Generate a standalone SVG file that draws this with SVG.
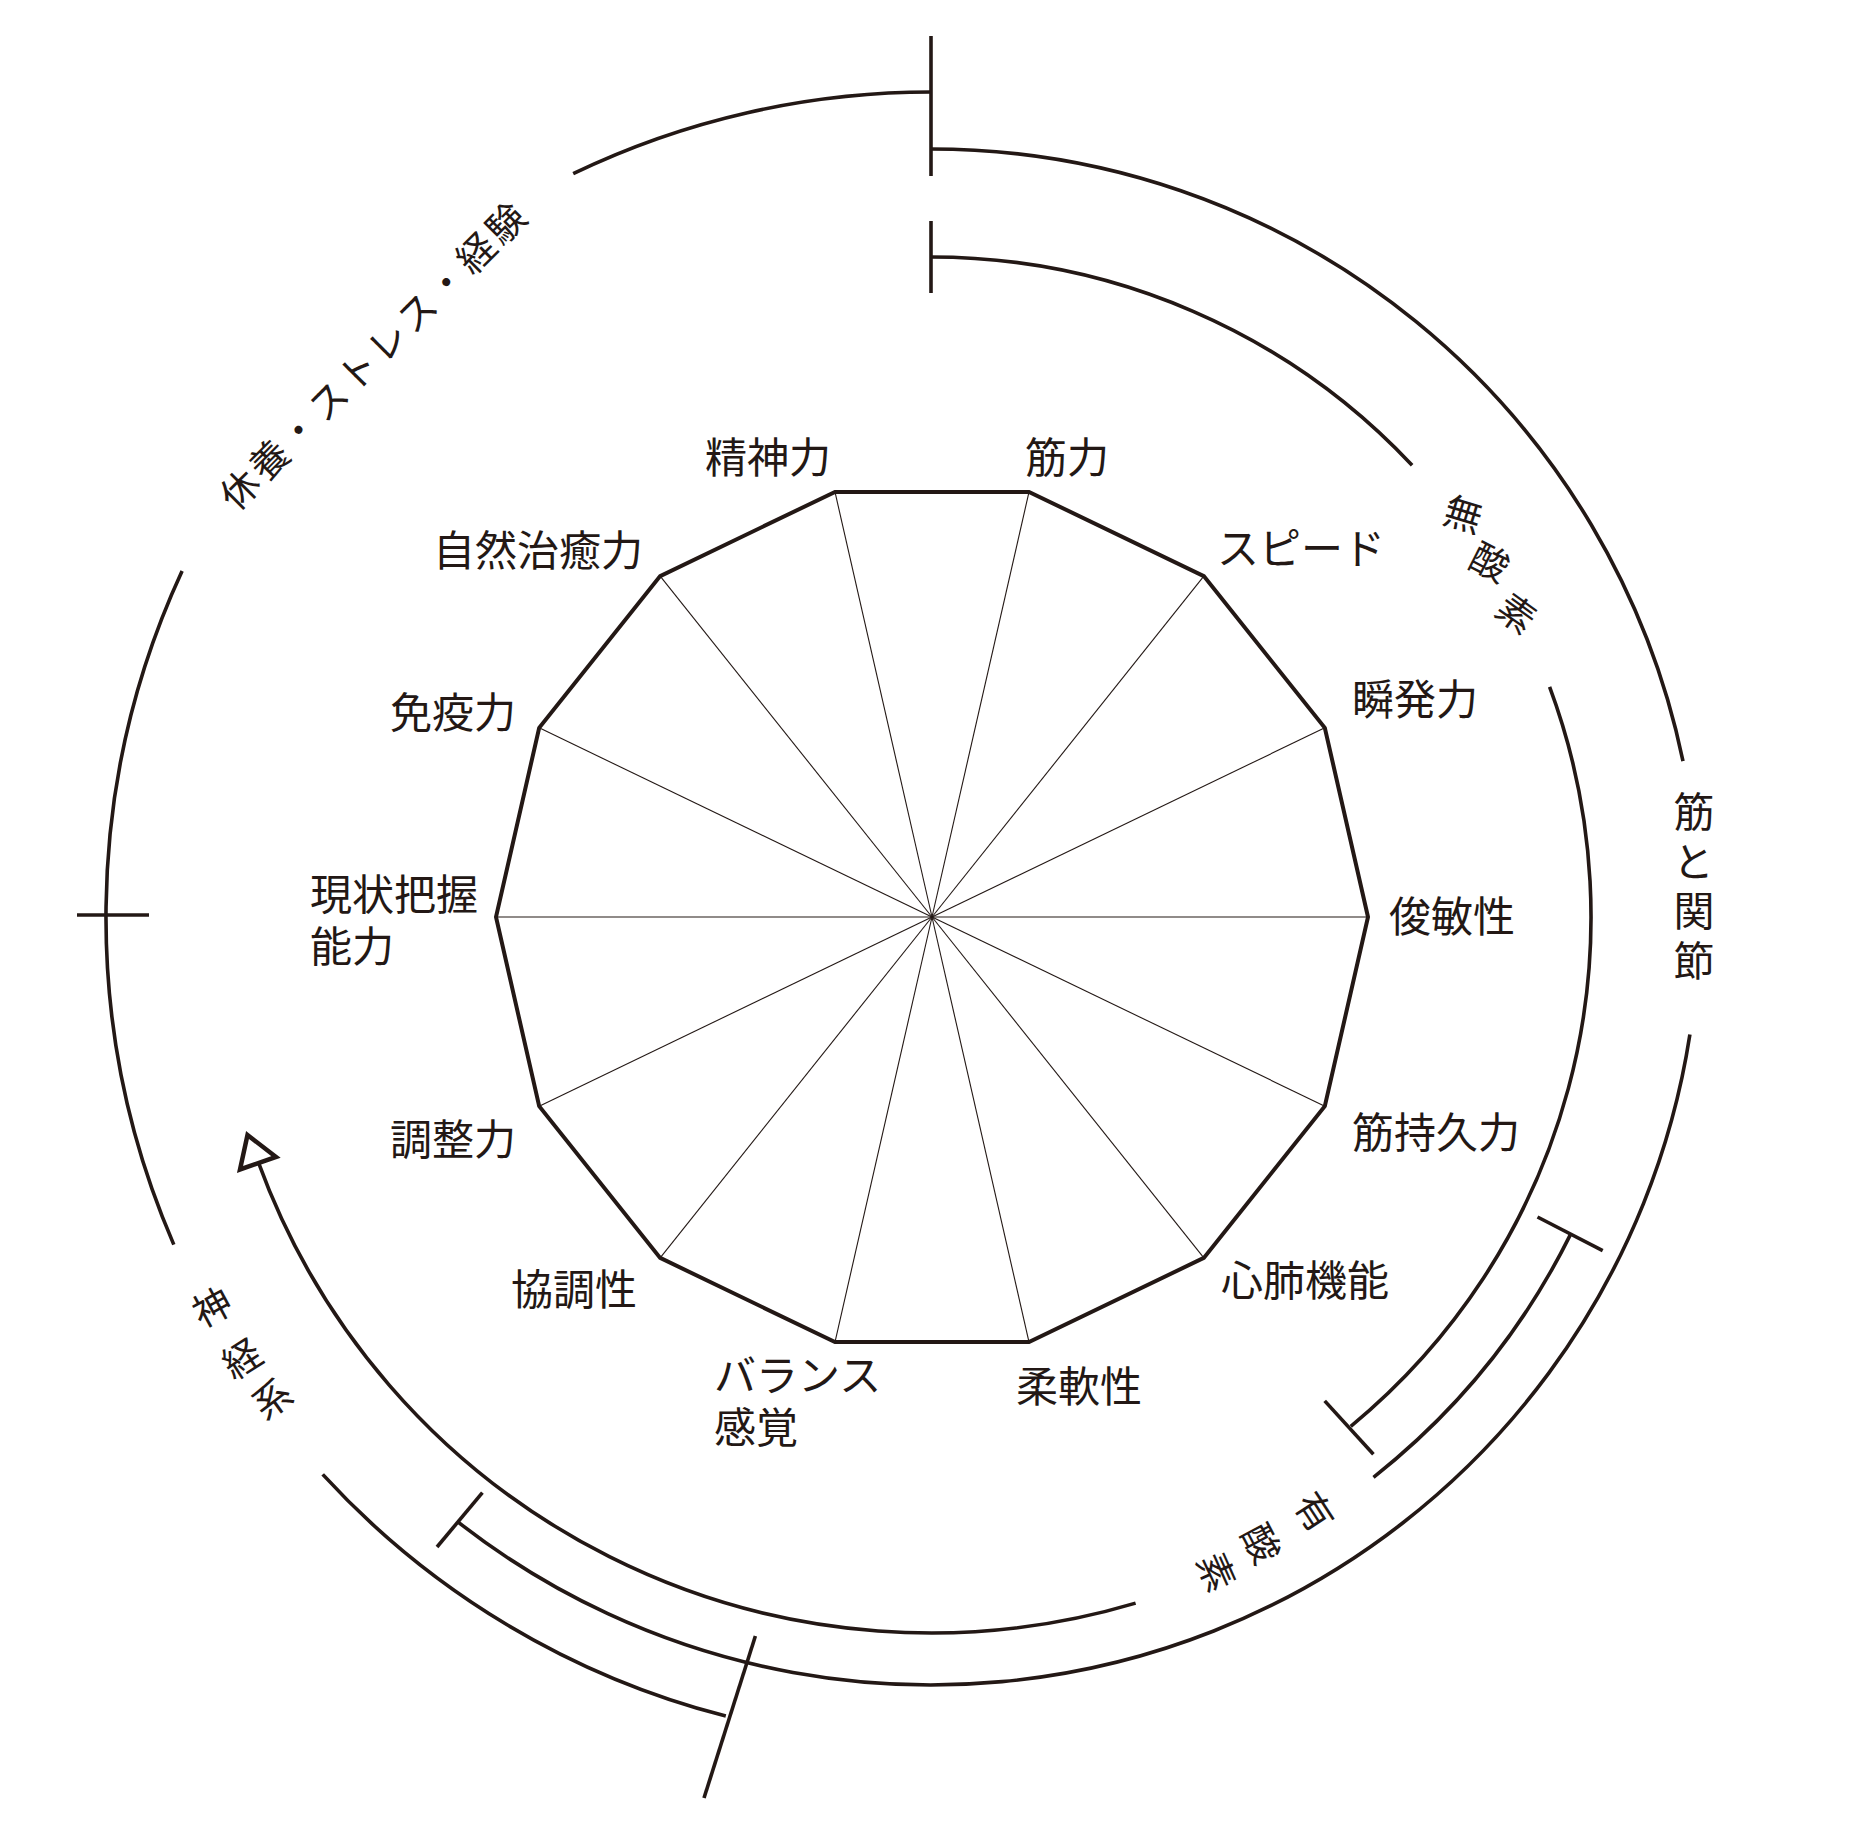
<svg xmlns="http://www.w3.org/2000/svg" width="1853" height="1827" viewBox="0 0 1853 1827">
<style>
.line{fill:none;stroke:#231815;stroke-width:3.6;stroke-linecap:butt}
.tick{fill:none;stroke:#231815;stroke-width:3.6}
.spoke{stroke:#231815;stroke-width:1.1}
.poly{fill:none;stroke:#231815;stroke-width:4;stroke-linejoin:miter}
.lbl{font-family:"Noto Sans CJK JP","Noto Sans CJK SC",sans-serif;font-size:42px;fill:#231815}
.rl{font-family:"Noto Sans CJK JP","Noto Sans CJK SC",sans-serif;font-size:38px;fill:#231815}
.vt{font-family:"Noto Sans CJK JP","Noto Sans CJK SC",sans-serif;font-size:41px;fill:#231815;writing-mode:vertical-rl}
</style>
<rect width="1853" height="1827" fill="#ffffff"/>
<g id="chart">
<g id="spokes">
<line class="spoke" x1="932" y1="917" x2="1368" y2="917"/>
<line class="spoke" x1="932" y1="917" x2="1324.82" y2="727.83"/>
<line class="spoke" x1="932" y1="917" x2="1203.84" y2="576.12"/>
<line class="spoke" x1="932" y1="917" x2="1029.02" y2="491.93"/>
<line class="spoke" x1="932" y1="917" x2="834.98" y2="491.93"/>
<line class="spoke" x1="932" y1="917" x2="660.16" y2="576.12"/>
<line class="spoke" x1="932" y1="917" x2="539.18" y2="727.83"/>
<line class="spoke" x1="932" y1="917" x2="496" y2="917"/>
<line class="spoke" x1="932" y1="917" x2="539.18" y2="1106.17"/>
<line class="spoke" x1="932" y1="917" x2="660.16" y2="1257.88"/>
<line class="spoke" x1="932" y1="917" x2="834.98" y2="1342.07"/>
<line class="spoke" x1="932" y1="917" x2="1029.02" y2="1342.07"/>
<line class="spoke" x1="932" y1="917" x2="1203.84" y2="1257.88"/>
<line class="spoke" x1="932" y1="917" x2="1324.82" y2="1106.17"/>
</g>
<polygon id="outline" class="poly" points="1368,917 1324.82,727.83 1203.84,576.12 1029.02,491.93 834.98,491.93 660.16,576.12 539.18,727.83 496,917 539.18,1106.17 660.16,1257.88 834.98,1342.07 1029.02,1342.07 1203.84,1257.88 1324.82,1106.17"/>
</g>
<g id="connectors">
<path class="line" d="M931,92 A825,825 0 0 0 573.2,173.6"/>
<path class="line" d="M182.1,570.9 A825,825 0 0 0 173.8,1244.6"/>
<path class="line" d="M322.7,1474.4 A825,825 0 0 0 725.8,1716.1"/>
<path class="line" d="M931,149 A768,768 0 0 1 1683,761.2"/>
<path class="line" d="M1689.9,1034.5 A768,768 0 0 1 458.2,1522.2"/>
<path class="line" d="M931,257 A660,660 0 0 1 1412.1,465.2"/>
<path class="line" d="M1549.6,686.9 A660,660 0 0 1 1350.8,1426.3"/>
<path class="line" d="M1570.8,1233.9 A714,714 0 0 1 1373.5,1477.3"/>
<path class="line" d="M1135.6,1603.1 A716,716 0 0 1 258.2,1161.9"/>
<polygon fill="#ffffff" stroke="#231815" stroke-width="4.5" stroke-linejoin="miter" points="247.5,1135 276,1157 240,1169.5"/>
<line class="tick" x1="931" y1="36" x2="931" y2="176"/>
<line class="tick" x1="931" y1="221" x2="931" y2="293"/>
<line class="tick" x1="77" y1="915" x2="149" y2="915"/>
<line class="tick" x1="1324.7" y1="1400.9" x2="1373.4" y2="1454.2"/>
<line class="tick" x1="1537.5" y1="1217" x2="1602.7" y2="1250.6"/>
<line class="tick" x1="437" y1="1547" x2="482.4" y2="1492.6"/>
<line class="tick" x1="755.4" y1="1636" x2="704" y2="1798"/>
</g>
<g id="label-seishinryoku"><text class="lbl" x="705" y="473">精神力</text></g>
<g id="label-kinryoku"><text class="lbl" x="1025" y="473">筋力</text></g>
<g id="label-speed"><text class="lbl" x="1217" y="564">スピード</text></g>
<g id="label-shizenchiyuryoku"><text class="lbl" x="433" y="566">自然治癒力</text></g>
<g id="label-shunpatsuryoku"><text class="lbl" x="1352" y="715">瞬発力</text></g>
<g id="label-men-ekiryoku"><text class="lbl" x="390" y="728">免疫力</text></g>
<g id="label-genjo"><text class="lbl" x="310" y="910"><tspan x="310" y="910">現状把握</tspan><tspan x="310" y="962">能力</tspan></text></g>
<g id="label-shunbinsei"><text class="lbl" x="1389" y="932">俊敏性</text></g>
<g id="label-choseiryoku"><text class="lbl" x="390" y="1155">調整力</text></g>
<g id="label-kinjikyuryoku"><text class="lbl" x="1352" y="1148">筋持久力</text></g>
<g id="label-shinpai"><text class="lbl" x="1221" y="1296">心肺機能</text></g>
<g id="label-kyochosei"><text class="lbl" x="511" y="1305">協調性</text></g>
<g id="label-balance"><text class="lbl" x="714" y="1391"><tspan x="714" y="1391">バランス</tspan><tspan x="714" y="1443">感覚</tspan></text></g>
<g id="label-junansei"><text class="lbl" x="1016" y="1402">柔軟性</text></g>
<g id="label-kyuyo"><text class="rl" transform="translate(298.5,430) rotate(-45)" x="-102.6" y="14.4" letter-spacing="3.8">休養・ストレス・経験</text></g>
<g id="label-musanso"><text class="rl" x="1440.9 1466.5 1492.8" y="522.3 565.9 613.8" rotate="17 27 36">無酸素</text></g>
<g id="label-yusanso"><text class="rl" x="1292.5 1240 1195.8" y="1503.6 1533.3 1560.2" rotate="57 62 66">有酸素</text></g>
<g id="label-shinkeikei"><text class="rl" x="201.9 233.5 264.9" y="1328.4 1380.7 1421.2" rotate="-28.4 -32.6 -36.1">神経系</text></g>
<g id="label-kin-kansetsu"><text class="vt" x="1694" y="791" letter-spacing="8.5">筋と関節</text></g>
</svg>
